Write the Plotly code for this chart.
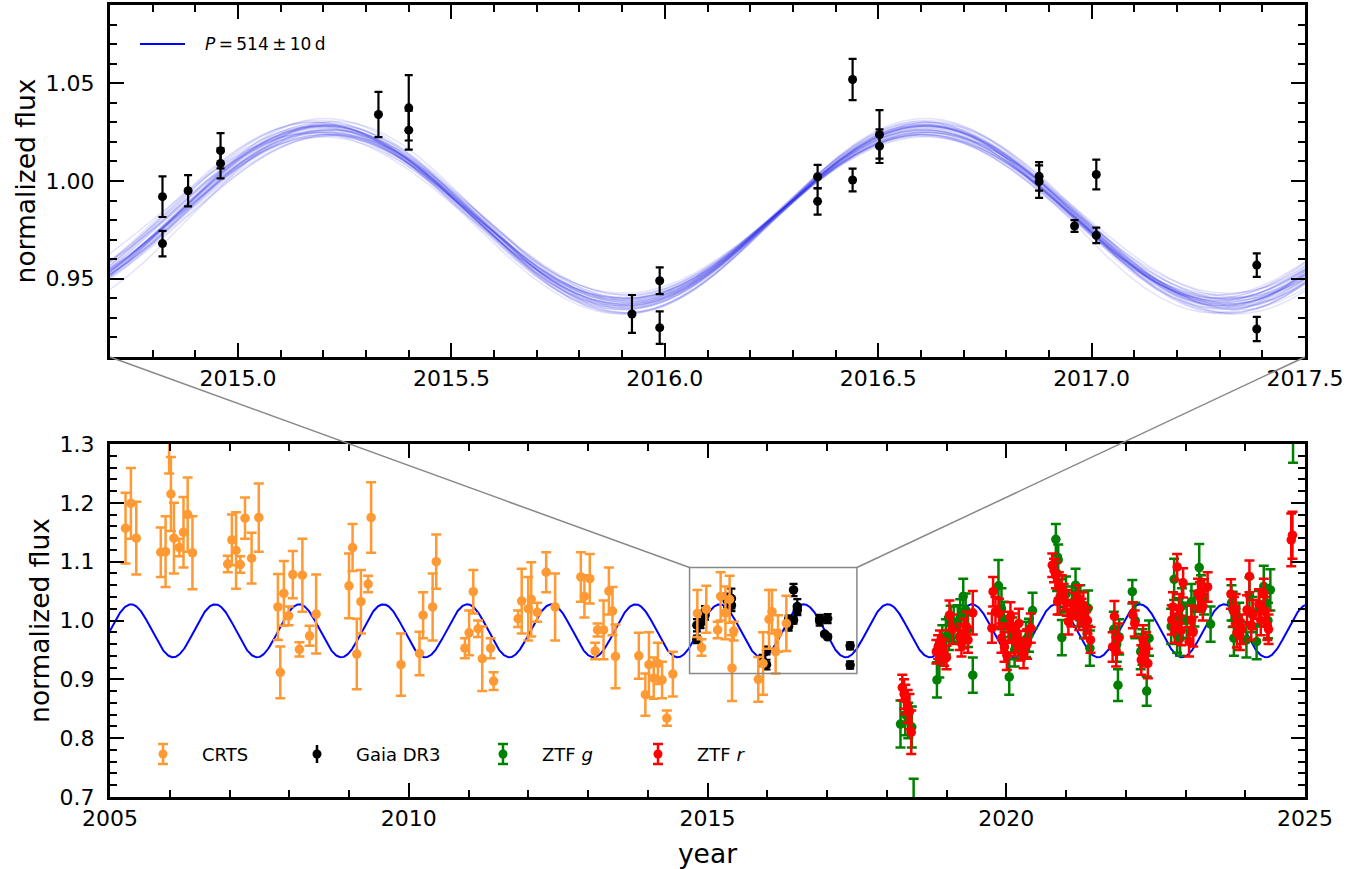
import numpy as np
import plotly.graph_objects as go

# ---------------- light curve data ----------------
# CRTS (year, normalized flux, 1-sigma error)
crts_t = [2005.26, 2005.35, 2005.44, 2005.85, 2005.93, 2005.99, 2006.02, 2006.07, 2006.16, 2006.23,
          2006.30, 2006.38, 2006.97, 2007.04, 2007.11, 2007.18, 2007.26, 2007.37, 2007.49, 2007.81,
          2007.85, 2007.91, 2007.99, 2008.06, 2008.17, 2008.22, 2008.34, 2008.45, 2009.00, 2009.06,
          2009.13, 2009.20, 2009.32, 2009.37, 2009.87, 2010.18, 2010.24, 2010.40, 2010.46, 2010.94,
          2011.01, 2011.08, 2011.16, 2011.23, 2011.37, 2011.42, 2011.83, 2011.89, 2012.00, 2012.05,
          2012.15, 2012.30, 2012.45, 2012.88, 2012.94, 2013.03, 2013.12, 2013.16, 2013.26, 2013.35,
          2013.41, 2013.46, 2013.85, 2013.96, 2014.02, 2014.10, 2014.17, 2014.24, 2014.32, 2014.42,
          2014.83, 2014.90, 2014.98, 2015.17, 2015.22, 2015.30, 2015.37, 2015.41, 2015.44, 2015.85,
          2015.93, 2016.03, 2016.08, 2016.14, 2016.18, 2016.32]
crts_f = [1.157, 1.199, 1.140, 1.116, 1.117, 1.310, 1.215, 1.140, 1.124, 1.150,
          1.180, 1.115, 1.096, 1.137, 1.119, 1.095, 1.174, 1.106, 1.175, 1.023,
          0.912, 1.046, 1.008, 1.078, 0.951, 1.077, 0.974, 1.011, 1.059, 1.124,
          0.943, 1.032, 1.062, 1.175, 0.925, 0.944, 1.009, 1.023, 1.100, 0.953,
          0.979, 1.049, 0.986, 0.935, 0.953, 0.897, 1.003, 1.033, 1.020, 1.036,
          1.014, 1.082, 1.023, 1.074, 1.041, 1.071, 0.948, 0.984, 0.984, 1.050,
          1.016, 0.939, 0.940, 0.874, 0.925, 0.902, 0.927, 0.899, 0.834, 0.909,
          1.012, 0.954, 1.019, 0.984, 1.041, 1.013, 1.036, 0.919, 0.982, 0.900,
          0.927, 1.002, 1.015, 0.947, 0.978, 0.995]
crts_e = [0.060, 0.060, 0.062, 0.042, 0.060, 0.060, 0.063, 0.060, 0.015, 0.060,
          0.063, 0.062, 0.014, 0.043, 0.065, 0.014, 0.035, 0.043, 0.058, 0.056,
          0.044, 0.055, 0.016, 0.040, 0.012, 0.062, 0.017, 0.067, 0.055, 0.040,
          0.060, 0.054, 0.014, 0.060, 0.053, 0.037, 0.039, 0.057, 0.046, 0.017,
          0.038, 0.037, 0.014, 0.055, 0.017, 0.015, 0.014, 0.055, 0.054, 0.063,
          0.016, 0.034, 0.057, 0.042, 0.036, 0.042, 0.014, 0.011, 0.050, 0.040,
          0.041, 0.054, 0.039, 0.036, 0.055, 0.035, 0.035, 0.031, 0.013, 0.038,
          0.040, 0.014, 0.040, 0.014, 0.041, 0.045, 0.040, 0.056, 0.016, 0.038,
          0.053, 0.050, 0.037, 0.037, 0.031, 0.047]

# Gaia DR3
gaia_t = [2014.823, 2014.823, 2014.883, 2014.959, 2014.959, 2015.329, 2015.400, 2015.400,
          2015.923, 2015.988, 2015.988, 2016.358, 2016.358, 2016.440, 2016.440, 2016.503,
          2016.503, 2016.877, 2016.877, 2016.960, 2017.011, 2017.011, 2017.387, 2017.387]
gaia_f = [0.992, 0.968, 0.995, 1.0155, 1.009, 1.034, 1.026, 1.0374,
          0.932, 0.949, 0.925, 1.0022, 0.9896, 1.0519, 1.0005, 1.0238,
          1.0178, 1.0024, 0.9997, 0.977, 1.0033, 0.9722, 0.957, 0.9243]
gaia_e = [0.0104, 0.0065, 0.0080, 0.0090, 0.0077, 0.0116, 0.0100, 0.0167,
          0.0097, 0.0068, 0.0083, 0.0060, 0.0068, 0.0105, 0.0058, 0.0124,
          0.0086, 0.0073, 0.0083, 0.0030, 0.0076, 0.0040, 0.0060, 0.0062]

# ZTF g band
ztfg_t = [2018.23, 2018.31, 2018.36, 2018.42, 2018.45,
          2018.84, 2018.88, 2018.93, 2018.99, 2019.04, 2019.07, 2019.12, 2019.19, 2019.23, 2019.28,
          2019.32, 2019.36, 2019.44,
          2019.87, 2019.92, 2019.96, 2020.05, 2020.10, 2020.14, 2020.20, 2020.33, 2020.38, 2020.44,
          2020.83, 2020.85, 2020.87, 2020.90, 2020.93, 2021.00, 2021.10, 2021.16, 2021.20, 2021.24,
          2021.30, 2021.37, 2021.40,
          2021.80, 2021.85, 2021.87, 2021.89, 2022.11, 2022.16, 2022.25, 2022.28, 2022.35, 2022.39,
          2022.76, 2022.81, 2022.86, 2022.89, 2022.91, 2022.94, 2023.02, 2023.10, 2023.15, 2023.23,
          2023.26, 2023.31, 2023.42,
          2023.77, 2023.79, 2023.81, 2023.90, 2024.02, 2024.07, 2024.12, 2024.19, 2024.23, 2024.31,
          2024.35, 2024.38, 2024.42,
          2024.80]
ztfg_f = [0.824, 0.840, 0.830, 0.819, 0.690,
          0.899, 0.931, 0.962, 0.972, 0.978, 0.995, 0.994, 0.998, 1.006, 1.041,
          1.018, 0.985, 0.907,
          1.059, 1.020, 1.002, 0.904, 0.975, 0.950, 0.965, 0.968, 0.975, 1.017,
          1.138, 1.080, 1.103, 1.040, 0.971, 1.045, 1.030, 1.060, 1.020, 1.030,
          1.000, 1.021, 0.953,
          0.985, 0.960, 0.890, 0.972, 1.049, 1.000, 0.947, 0.955, 0.880, 0.970,
          0.990, 1.070, 0.975, 1.008, 0.970, 1.025, 1.000, 1.032, 1.020, 1.090,
          1.047, 1.040, 0.994,
          1.030, 1.019, 0.970, 1.000, 0.967, 1.043, 1.010, 0.964, 1.020, 1.058,
          1.030, 1.000, 1.052,
          1.310]
ztfg_e = [0.040, 0.035, 0.030, 0.035, 0.041,
          0.030, 0.028, 0.030, 0.030, 0.028, 0.030, 0.030, 0.028, 0.030, 0.030,
          0.028, 0.030, 0.030,
          0.044, 0.035, 0.030, 0.030, 0.030, 0.028, 0.030, 0.030, 0.028, 0.030,
          0.026, 0.030, 0.026, 0.030, 0.030, 0.030, 0.028, 0.028, 0.030, 0.030,
          0.030, 0.030, 0.030,
          0.030, 0.030, 0.027, 0.030, 0.020, 0.030, 0.030, 0.030, 0.025, 0.030,
          0.030, 0.035, 0.030, 0.030, 0.030, 0.030, 0.030, 0.030, 0.030, 0.040,
          0.030, 0.030, 0.030,
          0.030, 0.030, 0.030, 0.030, 0.030, 0.030, 0.030, 0.030, 0.030, 0.035,
          0.030, 0.030, 0.035,
          0.042]

# ZTF r band
ztfr_t = [2018.26, 2018.29, 2018.31, 2018.35, 2018.38, 2018.41,
          2018.83, 2018.86, 2018.89, 2018.92, 2018.96, 2019.00, 2019.05, 2019.10, 2019.22, 2019.25,
          2019.29, 2019.33, 2019.36, 2019.44,
          2019.76, 2019.78, 2019.82, 2019.88, 2019.92, 2019.97, 2020.01, 2020.04, 2020.07, 2020.11,
          2020.14, 2020.17, 2020.21, 2020.24, 2020.29, 2020.35, 2020.41,
          2020.77, 2020.80, 2020.83, 2020.86, 2020.88, 2020.93, 2020.96, 2021.01, 2021.04, 2021.09,
          2021.13, 2021.20, 2021.22, 2021.26, 2021.29, 2021.33, 2021.36, 2021.41,
          2021.78, 2021.81, 2021.84, 2021.88, 2022.12, 2022.15, 2022.26, 2022.29, 2022.31, 2022.34,
          2022.37,
          2022.77, 2022.79, 2022.82, 2022.86, 2022.90, 2022.93, 2022.96, 2023.06, 2023.10, 2023.13,
          2023.21, 2023.24, 2023.27, 2023.29, 2023.37,
          2023.76, 2023.81, 2023.84, 2023.86, 2023.91, 2023.94, 2024.03, 2024.07, 2024.10, 2024.13,
          2024.23, 2024.26, 2024.31, 2024.33, 2024.37, 2024.39,
          2024.77, 2024.79]
ztfr_f = [0.886, 0.875, 0.866, 0.854, 0.845, 0.810,
          0.947, 0.955, 0.963, 0.950, 0.945, 0.937, 1.009, 0.985, 0.972, 0.961,
          0.978, 0.990, 0.967, 1.013,
          0.987, 1.049, 1.015, 1.012, 0.970, 0.955, 0.941, 0.990, 1.006, 0.987,
          0.965, 0.970, 0.995, 0.957, 0.944, 0.960, 0.987,
          1.094, 1.085, 1.077, 1.032, 1.060, 1.055, 1.040, 1.030, 0.998, 1.012,
          1.025, 1.038, 1.006, 1.015, 1.026, 0.992, 1.000, 0.967,
          0.955, 1.007, 0.947, 0.970, 1.009, 0.995, 0.933, 0.967, 0.947, 0.955,
          0.927,
          1.001, 1.023, 0.987, 1.091, 1.020, 0.983, 1.064, 0.964, 1.000, 0.981,
          1.046, 1.040, 1.045, 1.025, 1.057,
          1.045, 1.015, 1.020, 0.979, 0.975, 0.985, 1.018, 1.075, 0.992, 1.010,
          1.028, 1.000, 1.046, 1.015, 0.992, 0.985,
          1.137, 1.145]
ztfr_e = [0.022, 0.025, 0.025, 0.028, 0.030, 0.037,
          0.020, 0.020, 0.020, 0.020, 0.022, 0.020, 0.025, 0.025, 0.022, 0.022,
          0.025, 0.025, 0.022, 0.037,
          0.025, 0.025, 0.025, 0.025, 0.025, 0.025, 0.025, 0.025, 0.025, 0.025,
          0.025, 0.025, 0.025, 0.025, 0.025, 0.025, 0.025,
          0.020, 0.020, 0.022, 0.022, 0.022, 0.022, 0.022, 0.022, 0.022, 0.022,
          0.022, 0.022, 0.022, 0.022, 0.022, 0.022, 0.022, 0.022,
          0.025, 0.026, 0.025, 0.025, 0.022, 0.022, 0.025, 0.025, 0.025, 0.025,
          0.025,
          0.025, 0.025, 0.025, 0.022, 0.025, 0.025, 0.025, 0.025, 0.025, 0.025,
          0.025, 0.025, 0.025, 0.025, 0.025,
          0.025, 0.025, 0.025, 0.025, 0.025, 0.025, 0.025, 0.027, 0.025, 0.025,
          0.025, 0.025, 0.025, 0.025, 0.025, 0.025,
          0.045, 0.040]

# ---------------- sinusoidal model ----------------
period_days = 514.0
model_amp = 0.045
model_mean = 0.9825
model_peak = 2016.61

# posterior draws: period [d], amplitude, mean level, epoch of maximum [yr]
draw_period = [514, 508, 521, 511, 517, 503, 526, 514, 509, 519, 512, 516, 506, 523, 514, 510, 518, 501,
               528, 513, 515, 507, 520, 512, 516, 505, 524, 511, 517, 514, 509, 519, 513, 515, 502, 527]
draw_amp = [0.045, 0.042, 0.048, 0.044, 0.047, 0.041, 0.049, 0.045, 0.043, 0.047, 0.042, 0.048,
            0.045, 0.043, 0.047, 0.041, 0.046, 0.049, 0.042, 0.045, 0.044, 0.047, 0.045, 0.042,
            0.048, 0.043, 0.046, 0.045, 0.040, 0.050, 0.045, 0.043, 0.047, 0.044, 0.042, 0.048]
draw_mean = [0.982, 0.981, 0.983, 0.982, 0.9815, 0.9825, 0.981, 0.983, 0.982, 0.9822, 0.9818, 0.9805,
             0.9835, 0.982, 0.9812, 0.9828, 0.982, 0.9815, 0.9825, 0.983, 0.981, 0.982, 0.9822, 0.9818,
             0.9808, 0.9832, 0.982, 0.9814, 0.9826, 0.982, 0.9812, 0.9828, 0.983, 0.981, 0.982, 0.9821]
draw_peak = [2016.610, 2016.605, 2016.616, 2016.606, 2016.614, 2016.602, 2016.618, 2016.612, 2016.604,
             2016.613, 2016.609, 2016.611, 2016.604, 2016.617, 2016.607, 2016.608, 2016.612, 2016.601,
             2016.619, 2016.611, 2016.609, 2016.603, 2016.615, 2016.606, 2016.613, 2016.604, 2016.616,
             2016.609, 2016.612, 2016.611, 2016.607, 2016.614, 2016.608, 2016.612, 2016.600, 2016.620]


def sinusoid(t, p_days, amp, mean, t_peak):
    return mean + amp * np.cos(2 * np.pi * (t - t_peak) / (p_days / 365.25))


# ---------------- styling ----------------
ORANGE = "#ff9933"
GREEN = "#008000"
RED = "#ff0000"
BLUE = "#0000ff"
FONT = "DejaVu Sans"

W, H = 1364, 869
ML, MR, MT, MB = 110, 59, 5, 72
PW, PH = W - ML - MR, H - MT - MB

top_x = [2014.7, 2017.5]
top_y = [0.91, 1.09]
bot_x = [2005.0, 2025.0]
bot_y = [0.7, 1.3]
bot_dom = [0.0, 353 / PH]
top_dom = [440 / PH, 1.0]


def fx(px):
    return (px - ML) / PW


def fy(py):
    return (H - MB - py) / PH


fig = go.Figure()

# bottom panel: full light curve
t_full = np.linspace(bot_x[0], bot_x[1], 3000)
fig.add_trace(go.Scatter(x=t_full, y=sinusoid(t_full, period_days, model_amp, model_mean, model_peak),
                         mode="lines", line=dict(color=BLUE, width=2), xaxis="x", yaxis="y",
                         showlegend=False, hoverinfo="skip"))


def points(t, f, e, color, cap, thick, size, ax, ay, name):
    return go.Scatter(x=t, y=f, mode="markers", name=name, xaxis=ax, yaxis=ay,
                      marker=dict(color=color, size=size, line=dict(width=0)),
                      error_y=dict(type="data", array=e, visible=True, color=color,
                                   thickness=thick, width=cap),
                      showlegend=False)


fig.add_trace(points(gaia_t, gaia_f, gaia_e, "black", 4, 2.2, 9.5, "x", "y", "Gaia DR3"))
fig.add_trace(points(crts_t, crts_f, crts_e, ORANGE, 5, 2.5, 9.5, "x", "y", "CRTS"))
fig.add_trace(points(ztfg_t, ztfg_f, ztfg_e, GREEN, 5, 2.5, 9.5, "x", "y", "ZTF g"))
fig.add_trace(points(ztfr_t, ztfr_f, ztfr_e, RED, 5, 2.5, 9.5, "x", "y", "ZTF r"))

# top panel: Gaia epochs with model draws
t_zoom = np.linspace(top_x[0], top_x[1], 800)
for p, a, m, tp in zip(draw_period, draw_amp, draw_mean, draw_peak):
    fig.add_trace(go.Scatter(x=t_zoom, y=sinusoid(t_zoom, p, a, m, tp), mode="lines",
                             line=dict(color="rgba(40,40,235,0.13)", width=1.5),
                             xaxis="x2", yaxis="y2", showlegend=False, hoverinfo="skip"))
fig.add_trace(points(gaia_t, gaia_f, gaia_e, "black", 4, 2.2, 9, "x2", "y2", "Gaia DR3"))

tick_font = dict(family=FONT, size=22, color="black")
title_font = dict(family=FONT, size=26.5, color="black")
common = dict(showline=True, linecolor="black", linewidth=3, mirror="allticks",
              ticks="inside", ticklen=14, tickwidth=2, tickcolor="black",
              showgrid=False, zeroline=False, tickfont=tick_font)


def minor(step):
    return dict(dtick=step, ticks="inside", ticklen=7, tickwidth=1.5, tickcolor="black", showgrid=False)


shapes = []
# zoom window in the bottom panel
shapes.append(dict(type="rect", xref="x", yref="y", x0=top_x[0], x1=top_x[1], y0=top_y[0], y1=top_y[1],
                   line=dict(color="#888888", width=1.5), layer="above"))
# connectors from the top panel's lower corners to the zoom window
box_top = bot_dom[0] + (top_y[1] - bot_y[0]) / (bot_y[1] - bot_y[0]) * (bot_dom[1] - bot_dom[0])
for xs, xb in [(0.0, top_x[0]), (1.0, top_x[1])]:
    shapes.append(dict(type="line", xref="paper", yref="paper", x0=xs, y0=top_dom[0],
                       x1=(xb - bot_x[0]) / (bot_x[1] - bot_x[0]), y1=box_top,
                       line=dict(color="#888888", width=1.5), layer="above"))

annotations = []
# top legend: model line
shapes.append(dict(type="line", xref="paper", yref="paper", x0=fx(140), x1=fx(185), y0=fy(44), y1=fy(44),
                   line=dict(color=BLUE, width=2)))
annotations.append(dict(xref="paper", yref="paper", x=fx(203), y=fy(44), xanchor="left", yanchor="middle",
                        showarrow=False, text="<i>P</i>\u2009=\u2009514\u2009±\u200910\u2009d",
                        font=dict(family=FONT, size=17, color="black")))

# bottom legend: error-bar keys
legend_keys = [("CRTS", ORANGE, 163, True), ("Gaia DR3", "black", 317, False),
               ("ZTF <i>g</i>", GREEN, 503, True), ("ZTF <i>r</i>", RED, 658, True)]
ky = 754
for label, col, kx, caps in legend_keys:
    half = 10 if caps else 9
    shapes.append(dict(type="line", xref="paper", yref="paper", x0=fx(kx), x1=fx(kx),
                       y0=fy(ky - half), y1=fy(ky + half), line=dict(color=col, width=2.5)))
    if caps:
        for yy in (ky - half, ky + half):
            shapes.append(dict(type="line", xref="paper", yref="paper", x0=fx(kx - 5), x1=fx(kx + 5),
                               y0=fy(yy), y1=fy(yy), line=dict(color=col, width=2.5)))
    shapes.append(dict(type="circle", xref="paper", yref="paper", x0=fx(kx - 4.5), x1=fx(kx + 4.5),
                       y0=fy(ky + 4.5), y1=fy(ky - 4.5), fillcolor=col, line=dict(width=0)))
    annotations.append(dict(xref="paper", yref="paper", x=fx(kx + 37), y=fy(ky), xanchor="left",
                            yanchor="middle", showarrow=False, text=label,
                            font=dict(family=FONT, size=18, color="black")))

fig.update_layout(
    width=W, height=H, margin=dict(l=ML, r=MR, t=MT, b=MB, autoexpand=False),
    paper_bgcolor="white", plot_bgcolor="white", showlegend=False,
    xaxis=dict(domain=[0, 1], range=bot_x, tick0=2005, dtick=5, minor=minor(1), ticklabelstandoff=0,
               title=dict(text="year", font=title_font, standoff=16), anchor="y", **common),
    yaxis=dict(domain=bot_dom, range=bot_y, tick0=0.7, dtick=0.1, tickformat=".1f", minor=minor(0.02),
               ticklabelstandoff=8,
               title=dict(text="normalized flux", font=title_font, standoff=3), anchor="x", **common),
    xaxis2=dict(domain=[0, 1], range=top_x, tick0=2015, dtick=0.5, tickformat=".1f", minor=minor(0.1),
                ticklabelstandoff=0, anchor="y2", **common),
    yaxis2=dict(domain=top_dom, range=top_y, tick0=0.95, dtick=0.05, tickformat=".2f", minor=minor(0.01),
                ticklabelstandoff=8,
                title=dict(text="normalized flux", font=title_font, standoff=3), anchor="x2", **common),
    shapes=shapes, annotations=annotations,
)

fig.write_html("out.html")
